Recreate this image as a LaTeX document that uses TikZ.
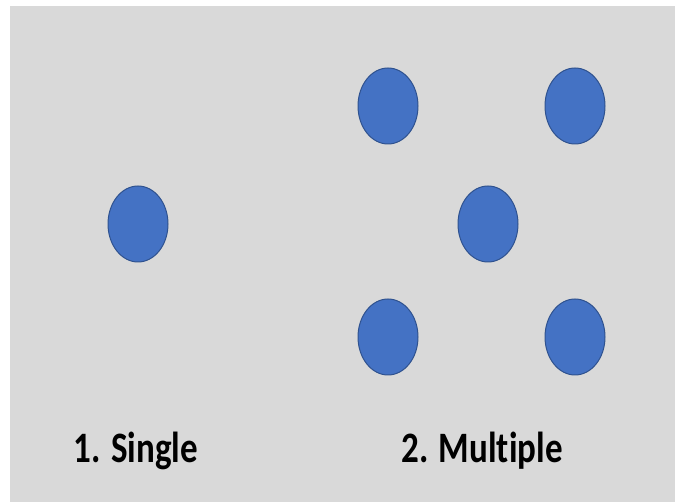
\documentclass[tikz,border=0pt]{standalone}
\usepackage{fontspec}
\usepackage{graphicx}
\setmainfont[Ligatures=NoCommon]{Carlito}
\usetikzlibrary{shapes.geometric}
\definecolor{panel}{HTML}{D9D9D9}
\definecolor{dotfill}{HTML}{4472C4}
\definecolor{dotline}{HTML}{2F528F}
\newcommand{\tallcap}[1]{\scalebox{1}[1.24]{#1}}
\begin{document}
\begin{tikzpicture}[x=1pt,y=-1pt,
  dot/.style={ellipse, draw=dotline, line width=1pt, fill=dotfill,
    minimum width=60pt, minimum height=76pt, inner sep=0pt},
  caption/.style={font=\bfseries\fontsize{35}{40}\selectfont, text=black, anchor=base}]
\useasboundingbox (0,0) rectangle (675,502);
\fill[white] (0,0) rectangle (675,502);
\fill[panel] (10,6) rectangle (675,502);
% single
\node[dot] (s) at (138,224) {};
% multiple
\node[dot] (m1) at (388,106) {};
\node[dot] (m2) at (575,106) {};
\node[dot] (m3) at (488,224) {};
\node[dot] (m4) at (388,337) {};
\node[dot] (m5) at (575,337) {};
\node[caption] (ls) at (136,463) {\tallcap{1. Single}};
\node[caption] (lm) at (482,463) {\tallcap{2. Multiple}};
\end{tikzpicture}
\end{document}
